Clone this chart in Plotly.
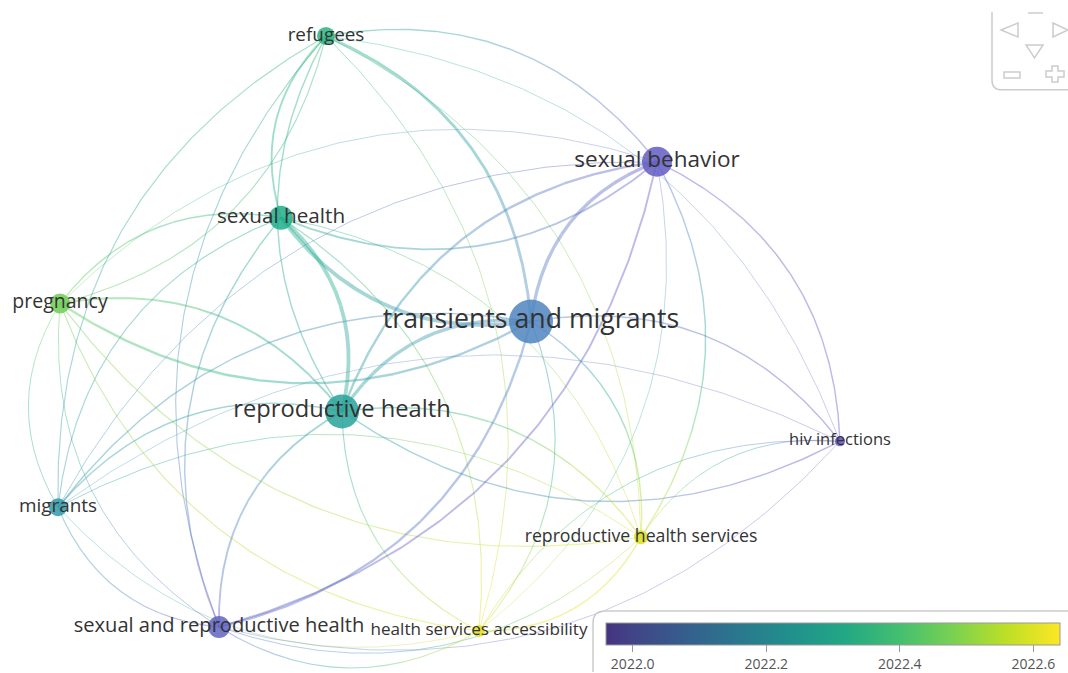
import plotly.graph_objects as go
import numpy as np

# ---------------- data ----------------
node_labels = ["refugees", "sexual behavior", "sexual health", "pregnancy",
               "transients and migrants", "reproductive health", "hiv infections",
               "migrants", "reproductive health services",
               "sexual and reproductive health", "health services accessibility"]
node_x = [326, 657, 281, 60, 531, 342, 840, 58, 641, 219, 479]
node_y = [36, 162, 218, 304, 322, 412, 442, 508, 538, 628, 632]
node_weight = [9, 15, 12, 10, 22, 17, 5, 9, 7, 11, 6]
node_score = [2022.33, 2021.98, 2022.30, 2022.45, 2022.10, 2022.25, 2021.96,
              2022.20, 2022.60, 2022.00, 2022.62]

edge_source = ["refugees", "refugees", "refugees", "refugees", "sexual health",
               "reproductive health", "refugees", "sexual and reproductive health",
               "migrants", "refugees",
               "transients and migrants", "sexual behavior", "reproductive health",
               "migrants", "pregnancy", "sexual behavior", "sexual behavior",
               "sexual behavior", "sexual behavior",
               "transients and migrants", "reproductive health", "transients and migrants",
               "migrants", "transients and migrants", "transients and migrants",
               "transients and migrants", "transients and migrants",
               "sexual health", "pregnancy", "migrants", "sexual and reproductive health",
               "sexual health", "sexual health",
               "pregnancy", "hiv infections", "migrants",
               "health services accessibility", "reproductive health services", "migrants",
               "sexual and reproductive health", "sexual and reproductive health",
               "migrants", "health services accessibility", "migrants",
               "sexual and reproductive health", "health services accessibility",
               "reproductive health", "health services accessibility",
               "reproductive health services", "hiv infections",
               "reproductive health services", "health services accessibility",
               "reproductive health services"]
edge_target = ["sexual behavior", "transients and migrants", "reproductive health services",
               "health services accessibility", "refugees",
               "refugees", "pregnancy", "refugees",
               "refugees", "hiv infections",
               "sexual behavior", "sexual health", "sexual behavior",
               "sexual behavior", "sexual behavior", "hiv infections", "reproductive health services",
               "health services accessibility", "sexual and reproductive health",
               "sexual health", "transients and migrants", "pregnancy",
               "transients and migrants", "hiv infections", "reproductive health services",
               "health services accessibility", "sexual and reproductive health",
               "reproductive health", "sexual health", "sexual health", "sexual health",
               "health services accessibility", "reproductive health services",
               "reproductive health", "reproductive health", "hiv infections",
               "pregnancy", "pregnancy", "pregnancy",
               "pregnancy", "migrants",
               "reproductive health services", "migrants", "reproductive health",
               "reproductive health", "reproductive health",
               "reproductive health services", "sexual and reproductive health",
               "sexual and reproductive health", "sexual and reproductive health",
               "health services accessibility", "hiv infections",
               "hiv infections"]
edge_weight = [1.5, 3, 1, 1, 2,
               1.5, 1.2, 1.2,
               1.2, 0.8,
               3.5, 2, 2.5,
               1, 0.8, 1.5, 1.5,
               0.8, 2,
               4, 3.5, 2.5,
               1.5, 1.5, 1.5,
               1.2, 2.5,
               4, 1.5, 1.2, 1.5,
               1.2, 1,
               2, 1.5, 0.8,
               1.2, 1.2, 1,
               1, 1.2,
               1, 0.8, 1.5,
               2, 1.2,
               1.5, 1.2,
               1, 0.8,
               1.5, 1,
               1]

colorbar_ticks = [2022.0, 2022.2, 2022.4, 2022.6]
score_min, score_max = 2021.96, 2022.64

# ---------------- colours ----------------
# legend bar: viridis (0.15 .. 1.0)
vir = [(0.15, '#46337f'), (0.2, '#414487'), (0.3, '#355f8d'), (0.4, '#2a788e'),
       (0.5, '#21918c'), (0.6, '#22a884'), (0.7, '#44bf70'), (0.8, '#7ad151'),
       (0.9, '#bddf26'), (1.0, '#fde725')]
bar_scale = [[(t - 0.15) / 0.85, c] for t, c in vir]
# lighter rendering used for the map items
mark_scale = [[0.0, '#6655c4'], [0.21, '#4f86c0'], [0.36, '#2f9aa8'], [0.5, '#1fae8a'],
              [0.66, '#4cc465'], [0.82, '#a5da38'], [1.0, '#f2e21a']]


def hex2rgb(h):
    h = h.lstrip('#')
    return [int(h[i:i + 2], 16) for i in (0, 2, 4)]


def score_rgb(v, scale=mark_scale):
    f = (v - score_min) / (score_max - score_min)
    f = min(max(f, 0), 1)
    for (p0, c0), (p1, c1) in zip(scale[:-1], scale[1:]):
        if f <= p1:
            a = (f - p0) / (p1 - p0) if p1 > p0 else 0
            r0, r1 = hex2rgb(c0), hex2rgb(c1)
            return [r0[i] + a * (r1[i] - r0[i]) for i in range(3)]
    return hex2rgb(scale[-1][1])


idx = {n: i for i, n in enumerate(node_labels)}

# ---------------- edges (curved, gradient coloured) ----------------
NSEG = 14
NBIN = 30
groups = {}
for s, t, w in zip(edge_source, edge_target, edge_weight):
    a, b = idx[s], idx[t]
    ax, ay, bx, by = node_x[a], node_y[a], node_x[b], node_y[b]
    dx, dy = bx - ax, by - ay
    L = np.hypot(dx, dy)
    nx, ny = dy / L, -dx / L
    k = 0.30 * L
    cx, cy = (ax + bx) / 2 + k * nx, (ay + by) / 2 + k * ny
    ts = np.linspace(0, 1, NSEG + 1)
    px = (1 - ts) ** 2 * ax + 2 * (1 - ts) * ts * cx + ts ** 2 * bx
    py = (1 - ts) ** 2 * ay + 2 * (1 - ts) * ts * cy + ts ** 2 * by
    for i in range(NSEG):
        tm = (ts[i] + ts[i + 1]) / 2
        v = node_score[a] + tm * (node_score[b] - node_score[a])
        bn = int(round((v - score_min) / (score_max - score_min) * (NBIN - 1)))
        key = (bn, w)
        g = groups.setdefault(key, ([], []))
        g[0].extend([px[i], px[i + 1], None])
        g[1].extend([py[i], py[i + 1], None])

fig = go.Figure()
for (bn, w), (gx, gy) in sorted(groups.items(), key=lambda kv: kv[0][1]):
    v = score_min + bn / (NBIN - 1) * (score_max - score_min)
    r, g_, b_ = score_rgb(v)
    fig.add_trace(go.Scatter(
        x=gx, y=gy, mode='lines', hoverinfo='skip', showlegend=False,
        line=dict(color=f'rgba({r:.0f},{g_:.0f},{b_:.0f},0.42)', width=max(0.7, w * 0.95)),
    ))

# ---------------- nodes ----------------
node_colors = ['rgb({:.0f},{:.0f},{:.0f})'.format(*score_rgb(v)) for v in node_score]
fig.add_trace(go.Scatter(
    x=node_x, y=node_y, mode='markers', showlegend=False, hoverinfo='text',
    hovertext=node_labels,
    marker=dict(size=[2 * w for w in node_weight], color=node_colors, opacity=0.85,
                line=dict(width=0)),
))

# colour legend (attached to an invisible marker)
fig.add_trace(go.Scatter(
    x=[node_x[0]], y=[node_y[0]], mode='markers', showlegend=False, hoverinfo='skip',
    marker=dict(size=1, opacity=0, color=[score_min], colorscale=bar_scale,
                cmin=score_min, cmax=score_max, showscale=True,
                colorbar=dict(orientation='h', x=606 / 1068, xanchor='left',
                              y=1 - 623 / 673, yanchor='top',
                              len=454, lenmode='pixels', thickness=22,
                              thicknessmode='pixels', xpad=0, ypad=0,
                              outlinecolor='#999', outlinewidth=1,
                              ticks='outside', ticklen=7, tickcolor='#999',
                              tickvals=colorbar_ticks, tickformat='.1f',
                              tickfont=dict(family='Open Sans', size=14, color='#555'))),
))

fig.add_trace(go.Scatter(
    x=node_x, y=node_y, mode='text', text=node_labels, textposition='middle center',
    showlegend=False, hoverinfo='skip',
    textfont=dict(family='Open Sans', color='#333',
                  size=[13.5 + 0.6 * w for w in node_weight]),
))

# ---------------- decorations (navigation widget, colour legend box) ----------------
grey = '#cccccc'
shapes = [
    dict(type='path', path='M 593,690 L 593,624 Q 593,612 605,612 L 1080,612',
         line=dict(color=grey, width=1.5)),
    dict(type='path', path='M 992,12 L 992,80 Q 992,90 1002,90 L 1080,90',
         line=dict(color=grey, width=1.5)),
    dict(type='path', path='M 1028,13 L 1043,13', line=dict(color=grey, width=1.5)),
    dict(type='path', path='M 1001,30 L 1018,23 L 1018,37 Z', line=dict(color=grey, width=1.5)),
    dict(type='path', path='M 1053,23 L 1068,30 L 1053,37 Z', line=dict(color=grey, width=1.5)),
    dict(type='path', path='M 1026,45 L 1043,45 L 1034.5,58 Z', line=dict(color=grey, width=1.5)),
    dict(type='path', path='M 1004,72 L 1020,72 L 1020,78 L 1004,78 Z', line=dict(color=grey, width=1.5)),
    dict(type='path', path='M 1052,66 L 1058,66 L 1058,71 L 1064,71 L 1064,77 L 1058,77 L 1058,82 '
                           'L 1052,82 L 1052,77 L 1046,77 L 1046,71 L 1052,71 Z',
         line=dict(color=grey, width=1.5)),
]
for s in shapes:
    s.update(xref='x', yref='y', layer='above')

fig.update_layout(
    width=1068, height=673, margin=dict(l=0, r=0, t=0, b=0),
    paper_bgcolor='white', plot_bgcolor='white',
    xaxis=dict(range=[0, 1068], visible=False, fixedrange=True),
    yaxis=dict(range=[673, 0], visible=False, fixedrange=True),
    shapes=shapes,
)

fig.write_html("out.html")
